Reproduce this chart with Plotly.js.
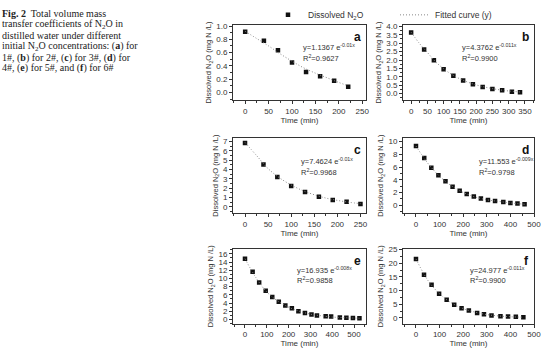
<!DOCTYPE html>
<html>
<head>
<meta charset="utf-8">
<script src="https://cdn.plot.ly/plotly-3.0.1.min.js"></script>
<style>html,body{margin:0;padding:0;background:#fff;}#chart{width:554px;height:358px;}</style>
</head>
<body>
<div id="chart"></div>
<script>
// ---- Data ----
// Panel a (1#)
const timeA = [0, 40, 70, 100, 130, 160, 190, 220];
const n2oA  = [0.913, 0.777, 0.636, 0.451, 0.306, 0.243, 0.175, 0.087];
const fitTimeA = [0, 25, 50, 75, 100, 125, 150, 175, 200, 220];
const fitA     = [0.92, 0.81, 0.70, 0.58, 0.47, 0.37, 0.29, 0.22, 0.15, 0.10];
// Panel b (2#)
const timeB = [0, 40, 70, 100, 130, 160, 190, 220, 250, 280, 310, 335];
const n2oB  = [3.63, 2.62, 1.98, 1.45, 1.07, 0.78, 0.56, 0.40, 0.28, 0.20, 0.12, 0.09];
const fitTimeB = [0, 25, 50, 75, 100, 125, 150, 175, 200, 225, 250, 275, 300, 335];
const fitB     = [3.65, 3.0, 2.45, 1.9, 1.48, 1.14, 0.88, 0.68, 0.52, 0.40, 0.30, 0.22, 0.16, 0.10];
// Panel c (3#)
const timeC = [0, 40, 70, 100, 130, 160, 190, 220, 250];
const n2oC  = [6.85, 4.55, 3.2, 2.25, 1.6, 1.1, 0.75, 0.55, 0.3];
const fitTimeC = [0, 25, 50, 75, 100, 125, 150, 175, 200, 225, 250];
const fitC     = [6.9, 5.5, 4.1, 3.1, 2.35, 1.75, 1.3, 0.95, 0.7, 0.5, 0.35];
// Panel d (4#)
const timeD = [0, 35, 65, 95, 125, 155, 185, 215, 245, 275, 305, 335, 370, 400, 430, 460];
const n2oD  = [9.3, 7.4, 5.9, 4.7, 3.75, 2.9, 2.25, 1.75, 1.35, 1.05, 0.8, 0.65, 0.5, 0.35, 0.25, 0.15];
const fitTimeD = [0, 50, 100, 150, 200, 250, 300, 350, 400, 460];
const fitD     = [9.3, 6.6, 4.55, 3.05, 2.0, 1.3, 0.85, 0.6, 0.35, 0.15];
// Panel e (5#)
const timeE = [0, 35, 65, 95, 125, 155, 185, 215, 245, 275, 305, 330, 370, 395, 435, 465, 495, 525];
const n2oE  = [14.8, 11.6, 9.0, 7.0, 5.5, 4.3, 3.4, 2.75, 2.0, 1.55, 1.2, 0.95, 0.8, 0.7, 0.5, 0.45, 0.35, 0.3];
const fitTimeE = [0, 50, 100, 150, 200, 250, 300, 350, 400, 450, 525];
const fitE     = [14.8, 10.2, 6.7, 4.5, 3.0, 2.0, 1.3, 0.9, 0.6, 0.45, 0.3];
// Panel f (6#)
const timeF = [0, 34, 66, 98, 130, 162, 193, 224, 259, 288, 320, 358, 390, 423, 455];
const n2oF  = [21.6, 15.8, 12.1, 8.8, 6.6, 4.8, 3.5, 2.7, 1.8, 1.3, 0.85, 0.6, 0.5, 0.37, 0.25];
const fitTimeF = [0, 50, 100, 150, 200, 250, 300, 350, 400, 455];
const fitF     = [21.6, 13.8, 8.8, 5.5, 3.4, 2.1, 1.2, 0.7, 0.4, 0.25];

const panelLetters = ['a', 'b', 'c', 'd', 'e', 'f'];
const equations = ['y=1.1367 e<sup>-0.01x</sup>', 'y=4.3762 e<sup>-0.011x</sup>', 'y=7.4624 e<sup>-0.01x</sup>',
                   'y=11.553 e<sup>-0.009x</sup>', 'y=16.935 e<sup>-0.008x</sup>', 'y=24.977 e<sup>-0.011x</sup>'];
const rSquared = ['0.9627', '0.9900', '0.9968', '0.9798', '0.9858', '0.9900'];
const captionLines = ['<b>Fig. 2</b>  Total volume mass', 'transfer coefficients of N<sub>2</sub>O in',
  'distilled water under different', 'initial N<sub>2</sub>O concentrations: (<b>a</b>) for',
  '1#, (<b>b</b>) for 2#, (<b>c</b>) for 3#, (<b>d</b>) for', '4#, (<b>e</b>) for 5#, and (<b>f</b>) for 6#'];

// ---- Layout helpers ----
const W = 554, H = 358;
const fx = x => x / W, fy = y => 1 - y / H;
const colL = [233, 366], colR = [403, 534];
const rows = [[19, 96], [134, 211], [247, 323]];
const panels = [
  {t: timeA, v: n2oA, ft: fitTimeA, fv: fitA, col: colL, row: rows[0], xr: [-26, 258], xd: 50, yr: [-0.12, 1.02], yd: 0.2, yf: '.1f'},
  {t: timeB, v: n2oB, ft: fitTimeB, fv: fitB, col: colR, row: rows[0], xr: [-25, 378], xd: 50, yr: [-0.4, 4.1], yd: 0.5, yf: '.1f'},
  {t: timeC, v: n2oC, ft: fitTimeC, fv: fitC, col: colL, row: rows[1], xr: [-26, 262], xd: 50, yr: [-0.7, 7.4], yd: 1, yf: 'd'},
  {t: timeD, v: n2oD, ft: fitTimeD, fv: fitD, col: colR, row: rows[1], xr: [-55, 500], xd: 100, yr: [-1.3, 10.6], yd: 2, yf: 'd'},
  {t: timeE, v: n2oE, ft: fitTimeE, fv: fitE, col: colL, row: rows[2], xr: [-55, 555], xd: 100, yr: [-1, 17.2], yd: 2, yf: 'd'},
  {t: timeF, v: n2oF, ft: fitTimeF, fv: fitF, col: colR, row: rows[2], xr: [-55, 500], xd: 100, yr: [-2.1, 25.3], yd: 5, yf: 'd'}
];
const eqPos = [[301, 42], [460, 42], [299, 158], [477, 158], [295, 268], [468, 268]];

const FONT = 'Liberation Sans, Arial, sans-serif';
const AX = '#333';
const traces = [];
const layout = {
  width: W, height: H, margin: {l: 0, r: 0, t: 0, b: 0},
  paper_bgcolor: '#fff', plot_bgcolor: '#fff',
  font: {family: FONT, size: 8, color: AX},
  showlegend: true,
  legend: {orientation: 'h', x: fx(268), y: fy(9), xanchor: 'left', yanchor: 'middle',
           font: {family: FONT, size: 8.5, color: AX}, bgcolor: 'rgba(0,0,0,0)', itemwidth: 30,
           entrywidth: 82, entrywidthmode: 'pixels', traceorder: 'normal'},
  annotations: []
};

panels.forEach((p, i) => {
  const n = i === 0 ? '' : String(i + 1);
  const xa = 'x' + n, ya = 'y' + n;
  traces.push({x: p.t, y: p.v, xaxis: xa, yaxis: ya, type: 'scatter', mode: 'markers',
    marker: {symbol: 'square', size: 4.5, color: '#111'}, name: 'Dissolved N<sub>2</sub>O',
    showlegend: i === 0});
  traces.push({x: p.ft, y: p.fv, xaxis: xa, yaxis: ya, type: 'scatter', mode: 'lines',
    line: {color: '#888', width: 1, dash: '1px,2px', shape: 'spline'}, name: 'Fitted curve (y)',
    showlegend: i === 0, hoverinfo: 'skip'});
  layout['xaxis' + n] = {
    domain: [fx(p.col[0]), fx(p.col[1])], anchor: ya, range: p.xr, dtick: p.xd, tick0: 0,
    showgrid: false, zeroline: false, showline: true, mirror: true, linecolor: AX, linewidth: 1,
    ticks: 'outside', ticklen: 3, tickcolor: AX, tickfont: {family: FONT, size: 8, color: AX},
    minor: {dtick: p.xd / 2, tick0: 0, ticks: 'outside', ticklen: 2, tickcolor: AX, showgrid: false},
    title: {text: 'Time (min)', font: {family: FONT, size: 8, color: AX}, standoff: 2}
  };
  layout['yaxis' + n] = {
    domain: [fy(p.row[1]), fy(p.row[0])], anchor: xa, range: p.yr, dtick: p.yd, tick0: 0, tickformat: p.yf,
    showgrid: false, zeroline: false, showline: true, mirror: true, linecolor: AX, linewidth: 1,
    ticks: 'outside', ticklen: 3, tickcolor: AX, tickfont: {family: FONT, size: 8, color: AX},
    minor: {dtick: p.yd / 2, tick0: 0, ticks: 'outside', ticklen: 2, tickcolor: AX, showgrid: false},
    title: {text: 'Dissolved N<sub>2</sub>O (mg N /L)', font: {family: FONT, size: 7.5, color: AX}, standoff: 3}
  };
  layout.annotations.push({xref: 'paper', yref: 'paper', x: fx(p.col[1] - 3), y: fy(p.row[0] + 3),
    xanchor: 'right', yanchor: 'top', showarrow: false, text: '<b>' + panelLetters[i] + '</b>',
    font: {family: FONT, size: 12, color: '#111'}});
  layout.annotations.push({xref: 'paper', yref: 'paper', x: fx(eqPos[i][0]), y: fy(eqPos[i][1]),
    xanchor: 'left', yanchor: 'middle', showarrow: false, text: equations[i],
    font: {family: FONT, size: 7.5, color: AX}});
  layout.annotations.push({xref: 'paper', yref: 'paper', x: fx(eqPos[i][0]), y: fy(eqPos[i][1] + 10.5),
    xanchor: 'left', yanchor: 'middle', showarrow: false, text: 'R<sup>2</sup>=' + rSquared[i],
    font: {family: FONT, size: 7.5, color: AX}});
});

captionLines.forEach((line, k) => {
  layout.annotations.push({xref: 'paper', yref: 'paper', x: fx(0), y: fy(8 + k * 11.1),
    xanchor: 'left', yanchor: 'middle', showarrow: false, text: line, align: 'left',
    font: {family: 'Liberation Serif, Times New Roman, serif', size: 10, color: '#222'}});
});

Plotly.newPlot('chart', traces, layout, {staticPlot: true, displayModeBar: false});
</script>
</body>
</html>
